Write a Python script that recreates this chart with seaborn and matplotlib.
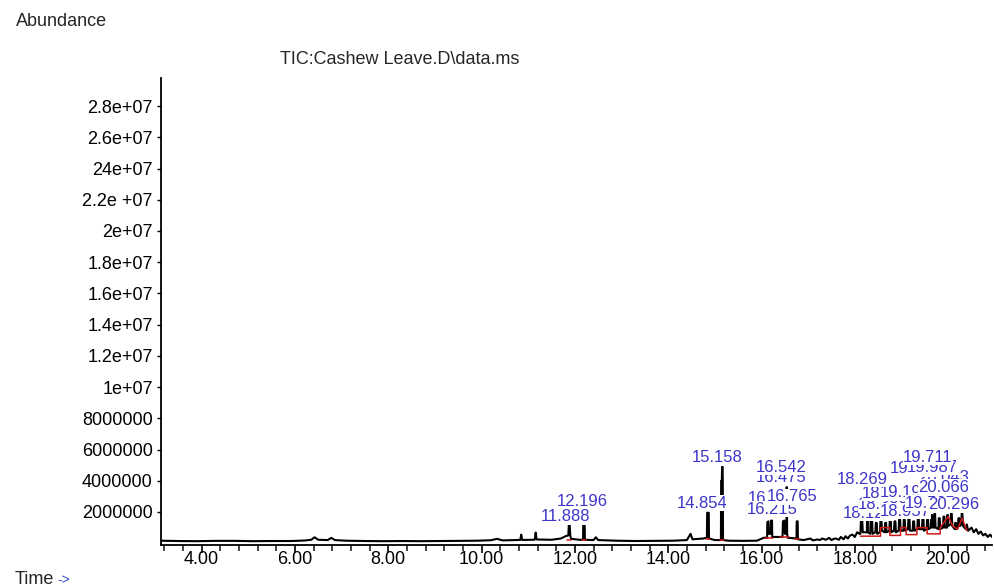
import numpy as np
import pandas as pd
import matplotlib
matplotlib.use("Agg")
import matplotlib.pyplot as plt
from matplotlib.ticker import MultipleLocator
import seaborn as sns

# ---------------- data ----------------
# total ion chromatogram trace, (retention time [min], abundance) pairs, by region
trace_early = [
    (3.13, 0.16e6), (3.5, 0.14e6), (3.9, 0.13e6), (4.3, 0.15e6), (4.7, 0.15e6),
    (5.1, 0.13e6), (5.5, 0.14e6), (5.9, 0.14e6), (6.2, 0.17e6), (6.35, 0.22e6),
    (6.42, 0.38e6), (6.5, 0.22e6), (6.7, 0.20e6), (6.78, 0.34e6), (6.86, 0.20e6),
    (7.1, 0.16e6), (7.5, 0.14e6), (7.9, 0.13e6), (8.3, 0.14e6), (8.7, 0.13e6),
    (9.1, 0.14e6), (9.5, 0.15e6), (9.9, 0.16e6), (10.2, 0.19e6), (10.33, 0.28e6),
    (10.45, 0.18e6), (10.75, 0.20e6), (10.83, 0.21e6), (10.85, 0.55e6),
    (10.87, 0.21e6), (11.1, 0.22e6), (11.14, 0.23e6), (11.16, 0.68e6),
    (11.18, 0.24e6), (11.5, 0.22e6),
]
trace_middle = [
    (11.7, 0.30e6), (11.8, 0.45e6), (11.86, 0.50e6), (11.87, 1.15e6),
    (11.89, 1.15e6), (11.9, 0.50e6), (11.92, 0.28e6), (12.1, 0.22e6),
    (12.175, 0.22e6), (12.18, 1.20e6), (12.21, 1.20e6), (12.215, 0.22e6),
    (12.4, 0.20e6), (12.45, 0.38e6), (12.5, 0.20e6), (12.9, 0.16e6),
    (13.3, 0.14e6), (13.7, 0.15e6), (14.1, 0.16e6), (14.4, 0.20e6),
    (14.48, 0.60e6), (14.52, 0.25e6), (14.75, 0.30e6), (14.83, 0.35e6),
    (14.835, 1.95e6), (14.87, 1.95e6), (14.875, 0.30e6), (15.0, 0.20e6),
    (15.13, 0.20e6), (15.135, 4.00e6), (15.15, 4.00e6), (15.155, 4.90e6),
    (15.165, 4.90e6), (15.17, 4.00e6), (15.175, 0.20e6), (15.3, 0.16e6),
    (15.6, 0.15e6), (15.9, 0.16e6), (16.05, 0.35e6), (16.12, 0.35e6),
    (16.125, 1.35e6), (16.15, 1.40e6), (16.16, 0.60e6), (16.2, 0.60e6),
    (16.205, 1.45e6), (16.225, 1.45e6), (16.23, 0.40e6), (16.45, 0.40e6),
    (16.46, 1.40e6), (16.49, 1.45e6), (16.5, 0.60e6), (16.535, 0.60e6),
    (16.54, 3.60e6), (16.55, 0.60e6), (16.56, 0.35e6), (16.75, 0.30e6),
    (16.755, 1.40e6), (16.775, 1.40e6), (16.78, 0.25e6), (16.9, 0.20e6),
]
trace_rise = [
    (17.05, 0.30e6), (17.1, 0.18e6), (17.2, 0.24e6), (17.25, 0.20e6),
    (17.3, 0.30e6), (17.38, 0.22e6), (17.45, 0.34e6), (17.5, 0.20e6),
    (17.55, 0.28e6), (17.6, 0.30e6), (17.66, 0.22e6), (17.7, 0.40e6),
    (17.76, 0.25e6), (17.8, 0.45e6), (17.85, 0.30e6), (17.9, 0.50e6),
    (17.95, 0.55e6), (18.0, 0.40e6), (18.05, 0.70e6), (18.1, 0.60e6),
]
trace_cluster = [
    (18.12, 0.60e6), (18.13, 1.40e6), (18.16, 1.40e6), (18.17, 0.70e6),
    (18.26, 0.70e6), (18.265, 3.60e6), (18.275, 3.60e6), (18.28, 0.70e6),
    (18.33, 0.60e6), (18.34, 1.50e6), (18.37, 1.50e6), (18.38, 0.60e6),
    (18.44, 0.70e6), (18.45, 1.30e6), (18.47, 1.30e6), (18.48, 0.60e6),
    (18.54, 0.70e6), (18.55, 1.60e6), (18.57, 1.60e6), (18.58, 0.80e6),
    (18.64, 0.70e6), (18.65, 1.30e6), (18.67, 1.30e6), (18.68, 0.70e6),
    (18.74, 0.80e6), (18.75, 1.50e6), (18.77, 1.50e6), (18.78, 0.70e6),
    (18.84, 0.80e6), (18.85, 1.40e6), (18.87, 1.40e6), (18.88, 0.70e6),
    (18.94, 0.80e6), (18.95, 1.60e6), (18.97, 1.60e6), (18.98, 0.80e6),
    (19.04, 0.80e6), (19.05, 1.50e6), (19.07, 1.50e6), (19.08, 0.80e6),
    (19.14, 0.90e6), (19.15, 1.70e6), (19.17, 1.70e6), (19.18, 0.80e6),
    (19.24, 0.80e6), (19.25, 1.40e6), (19.27, 1.40e6), (19.28, 0.80e6),
    (19.34, 0.90e6), (19.35, 1.60e6), (19.37, 1.60e6), (19.38, 0.90e6),
    (19.44, 0.90e6), (19.45, 1.70e6), (19.47, 1.70e6), (19.48, 0.80e6),
    (19.54, 0.90e6), (19.55, 1.50e6), (19.57, 1.50e6), (19.58, 0.90e6),
    (19.63, 1.00e6), (19.64, 1.80e6), (19.66, 1.80e6), (19.67, 1.00e6),
    (19.70, 1.00e6), (19.705, 1.90e6), (19.72, 1.90e6), (19.73, 1.00e6),
    (19.79, 0.90e6), (19.80, 1.60e6), (19.82, 1.60e6), (19.83, 0.90e6),
    (19.89, 1.00e6), (19.90, 1.70e6), (19.92, 1.70e6), (19.93, 1.00e6),
    (19.975, 1.00e6), (19.98, 1.80e6), (19.995, 1.80e6), (20.0, 1.10e6),
    (20.055, 1.20e6), (20.06, 1.95e6), (20.075, 1.95e6), (20.09, 1.10e6),
    (20.14, 0.90e6), (20.15, 1.30e6), (20.17, 1.30e6), (20.18, 0.90e6),
    (20.21, 1.00e6), (20.22, 1.60e6), (20.24, 1.60e6), (20.25, 1.10e6),
    (20.285, 1.20e6), (20.29, 1.90e6), (20.305, 1.90e6), (20.32, 1.10e6),
]
trace_tail = [
    (20.38, 0.90e6), (20.4, 1.20e6), (20.43, 0.80e6), (20.5, 1.00e6),
    (20.55, 0.70e6), (20.6, 0.90e6), (20.65, 0.60e6), (20.7, 0.75e6),
    (20.75, 0.50e6), (20.8, 0.60e6), (20.85, 0.40e6), (20.9, 0.55e6),
    (20.94, 0.40e6),
]

# integration baseline segments (red): (segment id, time, abundance)
baseline_marks = [
    (1, 11.84, 0.22e6), (1, 11.92, 0.22e6), (2, 12.16, 0.20e6), (2, 12.23, 0.20e6),
    (3, 14.82, 0.25e6), (3, 14.89, 0.25e6), (4, 15.12, 0.18e6), (4, 15.19, 0.18e6),
    (5, 16.08, 0.35e6), (5, 16.25, 0.35e6), (6, 16.40, 0.40e6), (6, 16.58, 0.40e6),
    (7, 16.72, 0.25e6), (7, 16.80, 0.25e6),
]
baseline_cluster = [
    (8, 18.12, 0.45e6), (8, 18.55, 0.45e6), (8, 18.55, 1.00e6), (8, 18.75, 1.00e6),
    (8, 18.75, 0.50e6), (8, 18.98, 0.50e6), (8, 18.98, 1.00e6), (8, 19.10, 1.00e6),
    (8, 19.10, 0.55e6), (8, 19.33, 0.55e6), (8, 19.33, 1.00e6), (8, 19.55, 1.00e6),
    (8, 19.55, 0.60e6), (8, 19.83, 0.60e6), (8, 19.83, 1.00e6), (8, 20.00, 1.70e6),
    (8, 20.10, 1.10e6), (8, 20.20, 0.90e6), (8, 20.30, 1.60e6), (8, 20.40, 0.80e6),
]

# peak labels (retention times as printed)
peak_labels = ["11.888", "12.196", "14.854", "15.158", "16.139", "16.215",
               "16.475", "16.542", "16.765",
               "18.125", "18.388", "18.957", "18.479", "19.193", "19.585",
               "20.296", "18.269", "20.043", "20.066", "19.634", "19.987",
               "19.711"]

y_tick_values = [2e6, 4e6, 6e6, 8e6, 1e7, 1.2e7, 1.4e7, 1.6e7, 1.8e7, 2e7,
                 2.2e7, 2.4e7, 2.6e7, 2.8e7]
y_tick_labels = ["2000000", "4000000", "6000000", "8000000", "1e+07", "1.2e+07",
                 "1.4e+07", "1.6e+07", "1.8e+07", "2e+07", "2.2e +07", "24e+07",
                 "2.6e+07", "2.8e+07"]
x_tick_values = [4, 6, 8, 10, 12, 14, 16, 18, 20]
x_tick_labels = ["4.00", "6.00", "8.00", "10.00", "12.00", "14.00", "16.00",
                 "18.00", "20.00"]

title_text = "TIC:Cashew Leave.D\\data.ms"

# ---------------- layout (label anchor: left edge time, abundance) ----------------
label_pos = [
    (11.274, 1.68e6), (11.617, 2.70e6), (14.189, 2.57e6), (14.511, 5.46e6),
    (15.711, 2.89e6), (15.684, 2.19e6), (15.866, 4.24e6), (15.866, 4.88e6),
    (16.119, 2.96e6),
    (17.747, 1.93e6), (18.069, 2.45e6), (18.540, 2.06e6), (18.155, 3.21e6),
    (18.540, 3.28e6), (19.076, 2.57e6), (19.569, 2.45e6), (17.619, 4.11e6),
    (19.354, 4.24e6), (19.354, 3.60e6), (18.754, 4.77e6), (19.119, 4.88e6),
    (19.033, 5.52e6),
]

sns.set_theme(style="white")
plt.rcParams["font.family"] = ["Liberation Sans", "DejaVu Sans"]

W, H = 995, 587
fig = plt.figure(figsize=(W / 100, H / 100), dpi=100)
ax = fig.add_axes([161 / W, 1 - 545 / H, (992 - 161) / W, (545 - 78) / H])

trace_pairs = trace_early + trace_middle + trace_rise + trace_cluster + trace_tail
trace = pd.DataFrame(trace_pairs, columns=["time", "abundance"])
sns.lineplot(data=trace, x="time", y="abundance", sort=False, estimator=None,
             color="black", linewidth=1.5, ax=ax, legend=False, zorder=2)

base = pd.DataFrame(baseline_marks + baseline_cluster,
                    columns=["seg", "time", "abundance"])
sns.lineplot(data=base, x="time", y="abundance", units="seg", sort=False,
             estimator=None, color="#d01818", linewidth=1.1, ax=ax,
             legend=False, zorder=3)

label_color = "#3d35c8"
for txt, (lx, ly) in zip(peak_labels, label_pos):
    ax.text(lx, ly, txt, ha="left", va="center", fontsize=12, color=label_color,
            zorder=5, bbox=dict(facecolor="white", edgecolor="none", pad=0.3))

ax.set_xlim(3.13, 20.94)
ax.set_ylim(-0.115e6, 29.8e6)
ax.set_xticks(x_tick_values)
ax.set_xticklabels(x_tick_labels)
ax.xaxis.set_minor_locator(MultipleLocator(0.4))
ax.set_yticks(y_tick_values)
ax.set_yticklabels(y_tick_labels)
ax.tick_params(axis="x", which="major", direction="out", length=6, width=1.2,
               labelsize=13, pad=-2, colors="black", bottom=True)
ax.tick_params(axis="x", which="minor", direction="out", length=4, width=1.2,
               bottom=True)
ax.tick_params(axis="y", which="major", direction="out", length=3, width=1,
               labelsize=13, pad=3, colors="black", left=True)
ax.set_xlabel("")
ax.set_ylabel("")
for s in ["top", "right"]:
    ax.spines[s].set_visible(False)
for s in ["left", "bottom"]:
    ax.spines[s].set_color("black")
    ax.spines[s].set_linewidth(1.3)
ax.grid(False)

fig.text(16 / W, 1 - 21 / H, "Abundance", ha="left", va="center", fontsize=13)
fig.text(400 / W, 1 - 59 / H, title_text, ha="center", va="center", fontsize=13)
fig.text(15 / W, 1 - 580 / H, "Time", ha="left", va="center", fontsize=13)
fig.text(57 / W, 1 - 580 / H, "->", ha="left", va="center", fontsize=10,
         color="#3050c8")

fig.savefig("out.png", dpi=100)
